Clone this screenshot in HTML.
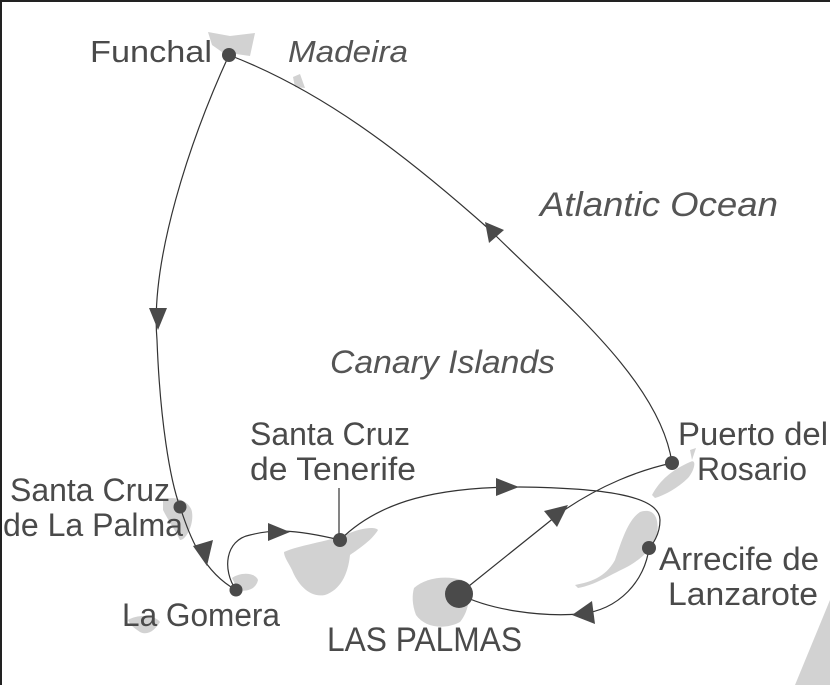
<!DOCTYPE html>
<html><head><meta charset="utf-8"><style>
html,body{margin:0;padding:0;background:#fff;}
svg{display:block;}
text{font-family:"Liberation Sans",sans-serif;fill:#4a4a4a;}
.it{font-style:italic;fill:#555;}
</style></head><body>
<svg width="830" height="685" viewBox="0 0 830 685" xmlns="http://www.w3.org/2000/svg">
<rect x="0" y="0" width="830" height="685" fill="#fff"/>
<rect x="0" y="0" width="830" height="2" fill="#222"/>
<rect x="0" y="0" width="2" height="685" fill="#222"/>
<g fill="#d2d2d2">
<polygon points="208,32 230,36 255,33 250,56 222,52 212,45"/>
<polygon points="293,77 300,74 305,88 295,87"/>
<path d="M163,500 C172,495 190,500 192,512 C194,525 186,540 180,540 C175,530 168,520 163,510Z"/>
<path d="M284,552 C300,545 325,542 345,535 C360,528 375,526 378,530 C372,540 360,548 350,555 C348,575 340,590 325,595 C310,598 298,585 292,570 C288,562 284,557 284,552Z"/>
<path d="M232,578 C240,572 255,572 258,580 C256,590 245,592 238,590Z"/>
<path d="M128,620 C138,614 155,615 160,622 C155,630 148,636 140,632 C134,628 130,625 128,620Z"/>
<path d="M414,588 C425,578 445,575 462,580 C472,590 470,610 460,622 C445,630 425,628 416,615 C412,605 412,595 414,588Z"/>
<path d="M575,585 C590,582 605,578 615,560 C622,540 628,520 640,512 C652,508 660,515 657,535 C652,550 640,560 625,568 C610,575 595,585 578,588Z"/>
<path d="M652,495 C660,480 672,470 690,462 C697,458 695,470 688,478 C678,488 665,495 655,498Z"/>
<polygon points="690,450 696,448 692,460"/>
<polygon points="830,600 830,685 795,685"/>
</g>
<g fill="none" stroke="#333" stroke-width="1.2">
<path d="M229,55 C190,140 150,260 157,340 C160,420 170,480 180,507 C188,530 200,570 236,590"/>
<path d="M236,590 C222,570 225,540 250,535 C270,530 290,528 340,540"/>
<path d="M340,540 C380,500 440,487 520,487 C600,488 660,495 660,520 C660,535 652,545 649,548 C645,580 620,610 580,614 C540,617 490,610 459,594"/>
<path d="M459,594 L560,513 C600,485 640,470 672,463"/>
<path d="M672,463 C660,380 560,300 490,230 C400,150 320,90 229,55"/>
<line x1="339" y1="488" x2="339" y2="540"/>
</g>
<g fill="#4a4a4a">
<polygon points="149,308 167,308 158,330"/>
<polygon points="193,546 213,540 207,566"/>
<polygon points="268,523 268,541 290,532"/>
<polygon points="496,478 496,496 519,487"/>
<polygon points="568,505 544,511 557,527"/>
<polygon points="572,615 592,601 595,624"/>
<polygon points="485,222 489,243 504,230"/>
<circle cx="229" cy="55" r="7"/>
<circle cx="180" cy="507" r="6.5"/>
<circle cx="236" cy="590" r="6.5"/>
<circle cx="340" cy="540" r="7"/>
<circle cx="459" cy="594" r="14"/>
<circle cx="672" cy="463" r="7"/>
<circle cx="649" cy="548" r="7"/>
</g>
<g lengthAdjust="spacingAndGlyphs">
<text x="90" y="62" font-size="31" textLength="122" lengthAdjust="spacingAndGlyphs">Funchal</text>
<text class="it" x="288" y="62" font-size="31" textLength="120" lengthAdjust="spacingAndGlyphs">Madeira</text>
<text class="it" x="540" y="216" font-size="34" textLength="238" lengthAdjust="spacingAndGlyphs">Atlantic Ocean</text>
<text class="it" x="330" y="373" font-size="32" textLength="225" lengthAdjust="spacingAndGlyphs">Canary Islands</text>
<text x="250" y="445" font-size="32" textLength="160" lengthAdjust="spacingAndGlyphs">Santa Cruz</text>
<text x="250" y="480" font-size="32" textLength="166" lengthAdjust="spacingAndGlyphs">de Tenerife</text>
<text x="10" y="501" font-size="32" textLength="160" lengthAdjust="spacingAndGlyphs">Santa Cruz</text>
<text x="3" y="536" font-size="32" textLength="180" lengthAdjust="spacingAndGlyphs">de La Palma</text>
<text x="122" y="626" font-size="32" textLength="158" lengthAdjust="spacingAndGlyphs">La Gomera</text>
<text x="327" y="651" font-size="34" textLength="195" lengthAdjust="spacingAndGlyphs">LAS PALMAS</text>
<text x="678" y="445" font-size="32" textLength="150" lengthAdjust="spacingAndGlyphs">Puerto del</text>
<text x="697" y="480" font-size="32" textLength="110" lengthAdjust="spacingAndGlyphs">Rosario</text>
<text x="659" y="570" font-size="32" textLength="160" lengthAdjust="spacingAndGlyphs">Arrecife de</text>
<text x="668" y="605" font-size="32" textLength="150" lengthAdjust="spacingAndGlyphs">Lanzarote</text>
</g>
</svg>
</body></html>
